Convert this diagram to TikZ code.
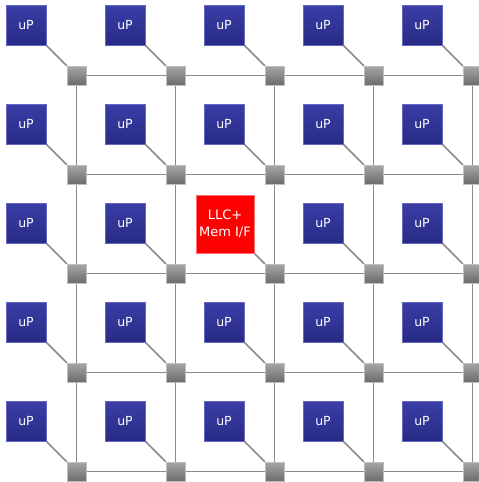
\documentclass[tikz,border=0pt]{standalone}
\usepackage{fontspec}
\setmainfont{DejaVu Sans}
\usetikzlibrary{backgrounds,shadows}
\definecolor{upTop}{HTML}{3A3EA6}
\definecolor{upBot}{HTML}{282B84}
\definecolor{upEdge}{HTML}{6468C4}
\definecolor{rtTop}{HTML}{A6A6A6}
\definecolor{rtBot}{HTML}{6C6C6C}
\definecolor{rtEdge}{HTML}{BEBEBE}
\definecolor{wire}{HTML}{8A8A8A}
\definecolor{llcRed}{HTML}{FF0000}
\definecolor{llcEdge}{HTML}{FF7070}
\tikzset{
  upbox/.style={rectangle, minimum size=40pt, inner sep=0pt, top color=upTop, bottom color=upBot, draw=upEdge, line width=0.6pt, text=white, font=\fontsize{12.5}{14}\selectfont},
  router/.style={rectangle, minimum size=19pt, inner sep=0pt, top color=rtTop, bottom color=rtBot, draw=rtEdge, line width=0.5pt, drop shadow={shadow xshift=1pt, shadow yshift=-1pt, opacity=0.25}},
  llcbox/.style={rectangle, minimum size=58pt, inner sep=0pt, fill=llcRed, draw=llcEdge, line width=0.6pt, text=white, align=center, font=\fontsize{13}{17}\selectfont},
  wireline/.style={draw=wire, line width=1.9pt},
  stubline/.style={draw=wire, line width=1.6pt}
}
\begin{document}
\begin{tikzpicture}[x=1pt,y=-1pt]
\useasboundingbox (0,0) rectangle (479,482);
\foreach \i in {0,...,4}{
  \foreach \j in {0,...,4}{
    \node[router] (r-\i-\j) at ({76.5+99*\i},{75.5+99*\j}) {};
  }
}
\foreach \i in {0,...,4}{
  \foreach \j in {0,...,4}{
    \ifnum\i=2 \ifnum\j=2 \else
      \node[upbox] (p-\i-\j) at ({26+99*\i},{25+99*\j}) {uP};
    \fi\else
      \node[upbox] (p-\i-\j) at ({26+99*\i},{25+99*\j}) {uP};
    \fi
  }
}
\node[llcbox] (p-2-2) at (225,224) {LLC+\\Mem I/F};
\begin{scope}[on background layer]
  \foreach \j in {0,...,4}{
    \draw[wireline] (r-0-\j.center) -- (r-4-\j.center);
  }
  \foreach \i in {0,...,4}{
    \draw[wireline] (r-\i-0.center) -- (r-\i-4.center);
  }
  \foreach \i in {0,...,4}{
    \foreach \j in {0,...,4}{
      \draw[stubline] (p-\i-\j.south east) -- (r-\i-\j.north west);
    }
  }
\end{scope}
\end{tikzpicture}
\end{document}
